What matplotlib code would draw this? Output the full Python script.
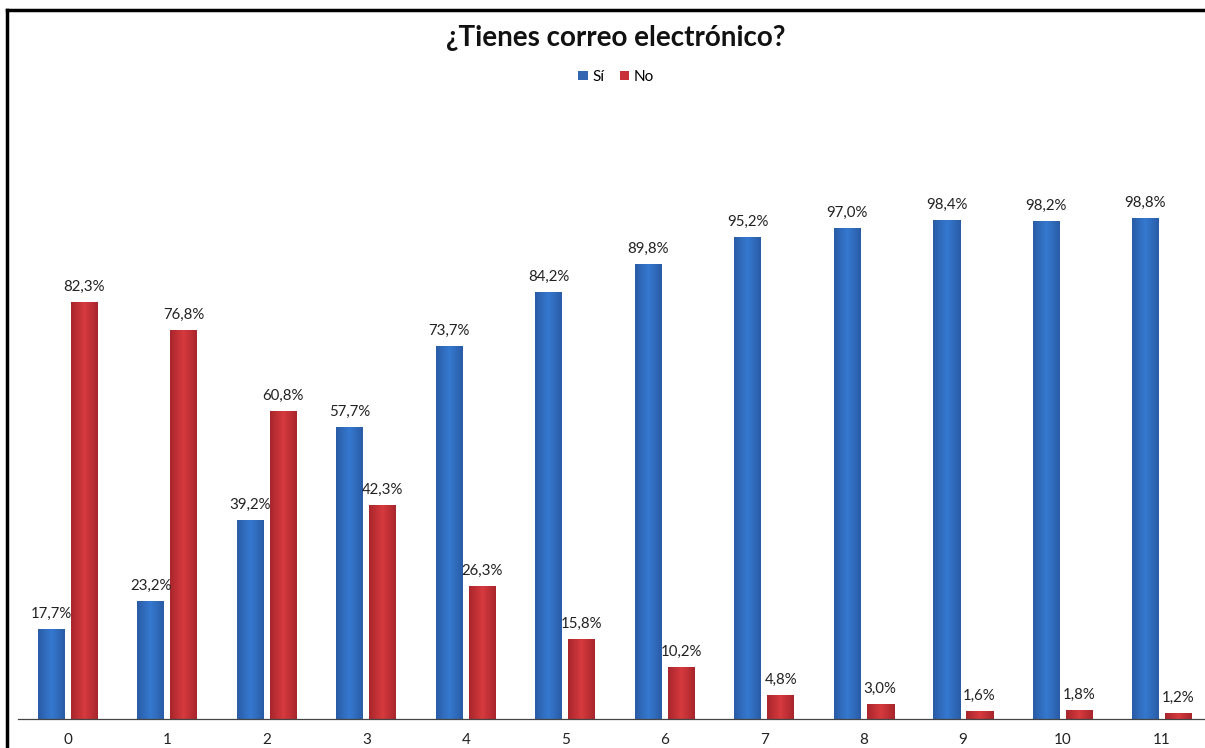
import numpy as np
import matplotlib
matplotlib.use("Agg")
import matplotlib.pyplot as plt
from matplotlib.colors import LinearSegmentedColormap
from matplotlib.patches import Patch

plt.rcParams['font.family'] = ['Lato', 'DejaVu Sans']

categories = ['0', '1', '2', '3', '4', '5', '6', '7', '8', '9', '10', '11']
si = [17.7, 23.2, 39.2, 57.7, 73.7, 84.2, 89.8, 95.2, 97.0, 98.4, 98.2, 98.8]
no = [82.3, 76.8, 60.8, 42.3, 26.3, 15.8, 10.2, 4.8, 3.0, 1.6, 1.8, 1.2]

blue_cmap = LinearSegmentedColormap.from_list('b', ['#2a5ca6', '#3579d0', '#2a5ca6'])
red_cmap = LinearSegmentedColormap.from_list('r', ['#a8262c', '#d63a3e', '#a8262c'])

W, H = 1205, 748
fig = plt.figure(figsize=(W / 100, H / 100), dpi=100)

# axes: baseline at y=719px, category 0 centred at x=68, step ~99.45px
step = 99.45
ax_left = 68 - step / 2
ax_bottom = H - 719
ax_top = H - 100
ax = fig.add_axes([ax_left / W, ax_bottom / H, 12 * step / W, (ax_top - ax_bottom) / H])
ymax = (719 - 100) / 5.067

x = np.arange(len(categories))
bw = 27 / step
off = 16.5 / step

grad = np.linspace(0, 1, 64).reshape(1, -1)
for xs, vals, cmap in [(x - off, si, blue_cmap), (x + off, no, red_cmap)]:
    bars = ax.bar(xs, vals, width=bw, color='none', edgecolor='none')
    for b in bars:
        im = ax.imshow(grad, cmap=cmap, aspect='auto', interpolation='bilinear',
                       extent=[b.get_x(), b.get_x() + b.get_width(), 0, b.get_height()],
                       zorder=2)
        im.set_clip_path(b)
    for xi, v in zip(xs, vals):
        ax.text(xi, v + 1.6, f"{v:.1f}%".replace('.', ','), ha='center', va='bottom',
                fontsize=10.8, color='#222222')

ax.set_xlim(-0.5, 11.5)
ax.set_ylim(0, ymax)
ax.set_xticks(x)
ax.set_xticklabels(categories, fontsize=11, color='#222222')
ax.tick_params(axis='x', length=0, pad=10)
ax.set_yticks([])
for s in ['top', 'right', 'left']:
    ax.spines[s].set_visible(False)
ax.spines['bottom'].set_color('#444444')
ax.spines['bottom'].set_linewidth(0.9)

fig.text(616 / W, 1 - 38 / H, '¿Tienes correo electrónico?', ha='center', va='center',
         fontsize=20, fontweight='bold', color='#111111')

handles = [Patch(facecolor='#3366b0', label='Sí'), Patch(facecolor='#c8303a', label='No')]
fig.legend(handles=handles, loc='center', bbox_to_anchor=(616 / W, 1 - 77 / H), ncol=2,
           frameon=False, fontsize=11, handlelength=0.6, handleheight=0.6,
           handletextpad=0.3, columnspacing=1.0)

# frame lines on top and left (cropped screenshot border)
fig.add_artist(plt.Line2D([7 / W, 7 / W], [0, 1 - 10 / H], color='black', lw=2.5))
fig.add_artist(plt.Line2D([7 / W, 1], [1 - 10 / H, 1 - 10 / H], color='black', lw=2.5))

fig.savefig('out.png', dpi=100)
